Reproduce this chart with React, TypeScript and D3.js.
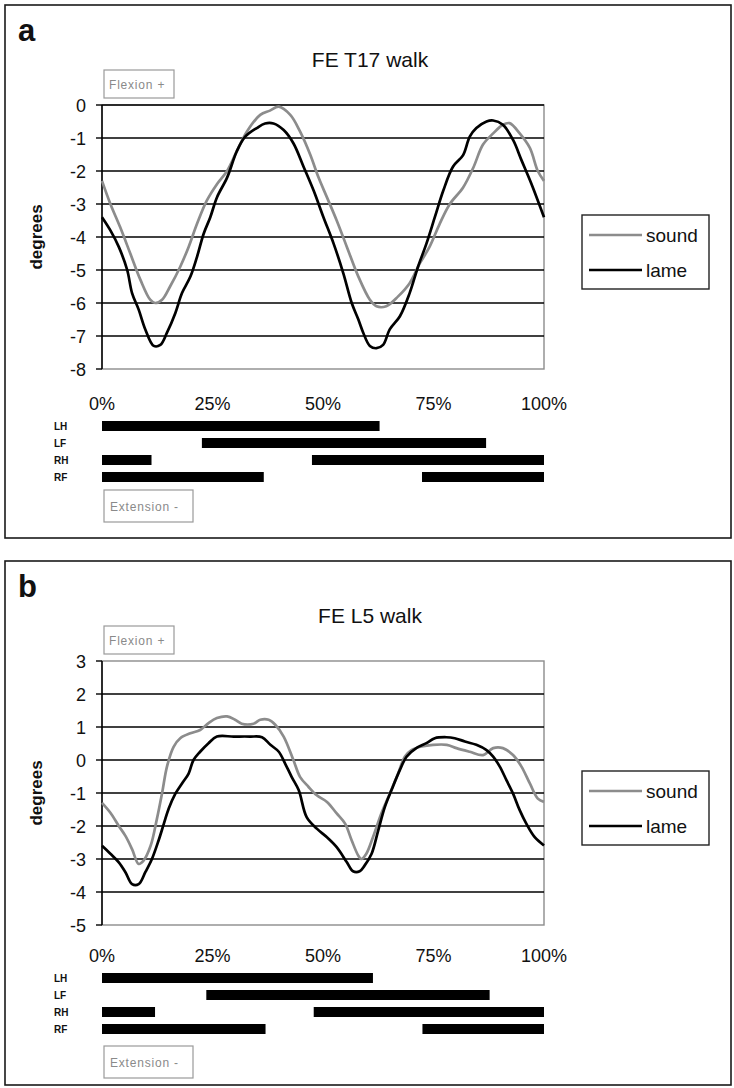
import React from "react";
import * as d3 from "d3";

type Pt = [number, number];
type Span = [number, number];

// shared categories
const limbs = ["LH", "LF", "RH", "RF"];
const cycleTicks = [0, 25, 50, 75, 100];
const seriesNames = ["sound", "lame"];
const seriesColors = ["#8c8c8c", "#000000"];

// y tick values (degrees)
const t17DegreeTicks = [0, -1, -2, -3, -4, -5, -6, -7, -8];
const l5DegreeTicks = [3, 2, 1, 0, -1, -2, -3, -4, -5];

// FE T17 walk: [% of stride, degrees]
const t17Sound: Pt[] = [
  [0, -2.3], [1.9, -3.0], [4.1, -3.7], [6.4, -4.5], [8.7, -5.3], [10.9, -5.9], [12, -6.0],
  [13.6, -5.9], [15.4, -5.5], [17.7, -4.9], [19.6, -4.3], [21.5, -3.6], [23.7, -2.9], [26, -2.4],
  [28.3, -2.0], [30.5, -1.4], [32.8, -0.8], [35.8, -0.3], [38, -0.17], [40, -0.05], [42.6, -0.3],
  [44.8, -0.8], [47.1, -1.5], [49, -2.2], [50.9, -2.8], [53.1, -3.5], [55.4, -4.3], [58, -5.2],
  [60.6, -5.9], [62.1, -6.1], [64.3, -6.1], [67, -5.8], [69.6, -5.4], [71.9, -4.8], [74.1, -4.3],
  [76.4, -3.6], [78.7, -3.0], [81.7, -2.5], [84, -1.9], [86.2, -1.2], [88.5, -0.86], [90.7, -0.6],
  [92.2, -0.55], [94.5, -0.86], [96.8, -1.3], [98.6, -2.0], [100, -2.3],
];
const t17Lame: Pt[] = [
  [0, -3.4], [1.9, -3.8], [3.8, -4.3], [5.7, -5.0], [6.8, -5.7], [8.3, -6.2], [9.8, -6.8],
  [11.7, -7.3], [13.2, -7.27], [14.7, -6.9], [16.6, -6.3], [18.1, -5.7], [20, -5.2], [21.5, -4.6],
  [23, -3.9], [24.5, -3.4], [26, -2.8], [28.3, -2.2], [30.5, -1.4], [32.4, -0.96], [35, -0.7],
  [36.9, -0.56], [38.8, -0.56], [41.1, -0.76], [43.3, -1.16], [45.6, -1.87], [47.9, -2.6],
  [50.1, -3.4], [52.4, -4.2], [54.6, -5.1], [56.5, -6.0], [58, -6.5], [59.1, -6.9], [60.6, -7.3],
  [62.1, -7.37], [63.6, -7.27], [65.1, -6.8], [67.4, -6.4], [69.6, -5.7], [71.5, -4.9],
  [73.4, -4.2], [75.3, -3.4], [77.2, -2.6], [79.4, -1.87], [81.7, -1.52], [83.2, -0.96],
  [84.7, -0.7], [87, -0.5], [88.5, -0.47], [90.7, -0.6], [93, -1.06], [94.9, -1.67],
  [97.1, -2.37], [100, -3.4],
];

// FE L5 walk: [% of stride, degrees]
const l5Sound: Pt[] = [
  [0, -1.3], [1.9, -1.6], [3.8, -2.0], [5.3, -2.3], [6.8, -2.7], [8.3, -3.15], [9.4, -3.05],
  [11, -2.6], [12.4, -1.8], [13.6, -1.0], [14.7, -0.2], [16.2, 0.4], [17.7, 0.66], [20, 0.81],
  [22.2, 0.91], [24.1, 1.12], [26, 1.27], [28.3, 1.32], [30.1, 1.22], [31.6, 1.1], [34.3, 1.1],
  [35.8, 1.22], [37.7, 1.22], [39.2, 1.07], [41.1, 0.71], [43.3, 0], [44.8, -0.51], [46.7, -0.81],
  [48.6, -1.07], [50.9, -1.27], [53.1, -1.62], [55, -1.93], [56.5, -2.44], [58, -2.9],
  [58.7, -3.0], [59.8, -2.84], [61.3, -2.34], [63.2, -1.62], [65.1, -1.02], [67, -0.41],
  [68.5, 0.1], [70, 0.3], [72.3, 0.41], [74.9, 0.46], [78, 0.46], [80.2, 0.36], [83.2, 0.25],
  [86.2, 0.15], [88.5, 0.36], [90.7, 0.36], [93, 0.15], [94.9, -0.2], [96.8, -0.71],
  [98.6, -1.17], [100, -1.27],
];
const l5Lame: Pt[] = [
  [0, -2.6], [1.9, -2.84], [3.8, -3.1], [5.3, -3.4], [6.8, -3.76], [8.3, -3.76], [9.8, -3.4],
  [11.3, -3.0], [12.8, -2.44], [14, -1.93], [15.1, -1.47], [16.6, -1.02], [18.1, -0.71],
  [19.6, -0.41], [20.7, 0], [22.2, 0.25], [24.1, 0.51], [26, 0.71], [29.8, 0.71], [33.5, 0.71],
  [36.2, 0.69], [38.1, 0.46], [40, 0.25], [41.4, -0.1], [42.9, -0.51], [44.5, -0.91],
  [46.3, -1.73], [48.6, -2.08], [50.9, -2.34], [53.1, -2.64], [55.4, -3.1], [56.8, -3.37],
  [58.3, -3.37], [59.4, -3.2], [61, -2.84], [62.5, -2.13], [64, -1.42], [65.5, -0.91],
  [67.4, -0.3], [68.9, 0.1], [71.1, 0.36], [73.4, 0.51], [75.3, 0.66], [77.9, 0.69],
  [79.8, 0.66], [82.1, 0.56], [84.7, 0.46], [87, 0.3], [88.5, 0.1], [90, -0.2], [91.5, -0.61],
  [93, -1.02], [94.5, -1.52], [96, -1.93], [97.9, -2.34], [100, -2.59],
];

// stance phases per limb (% of stride), in the order of `limbs`
const t17Stance: Span[][] = [
  [[0, 62.8]],
  [[22.6, 86.9]],
  [[0, 11.2], [47.5, 100]],
  [[0, 36.6], [72.4, 100]],
];
const l5Stance: Span[][] = [
  [[0, 61.3]],
  [[23.6, 87.7]],
  [[0, 12], [47.9, 100]],
  [[0, 37], [72.5, 100]],
];

const FONT = '"Liberation Sans", Arial, Helvetica, sans-serif';
const NARROW = '"Liberation Sans Narrow", "Arial Narrow", "Liberation Sans", sans-serif';

const PLOT_LEFT = 102;
const PLOT_RIGHT = 544;

interface PanelProps {
  top: number;
  height: number;
  letter: string;
  title: string;
  ticks: number[];
  sound: Pt[];
  lame: Pt[];
  stance: Span[][];
  topGrid: boolean;
  barTop: number;
  pctBaseline: number;
}

function Panel({ top, height, letter, title, ticks, sound, lame, stance, topGrid, barTop, pctBaseline }: PanelProps) {
  const x = d3.scaleLinear().domain([0, 100]).range([PLOT_LEFT, PLOT_RIGHT]);
  const yMin = ticks[ticks.length - 1];
  const yMax = ticks[0];
  const y = d3.scaleLinear().domain([yMin, yMax]).range([top + 364, top + 100]);
  const line = d3
    .line<Pt>()
    .x((d) => x(d[0]))
    .y((d) => y(d[1]))
    .curve(d3.curveCatmullRom.alpha(0.5));
  const series = [sound, lame];
  const gridTicks = ticks.filter((t) => t !== yMin && (topGrid || t !== yMax));
  const barY = d3.scalePoint<string>().domain(limbs).range([top + barTop, top + barTop + 51]);
  const legendTop = top + 210;

  return (
    <g>
      <rect x={5} y={top} width={726} height={height} fill="#fff" stroke="#1a1a1a" strokeWidth={1.6} />
      <text x={18} y={top + 36} fontFamily={FONT} fontWeight="bold" fontSize={31} fill="#111">
        {letter}
      </text>
      <text x={370} y={top + 62} textAnchor="middle" fontFamily={FONT} fontSize={21} fill="#111">
        {title}
      </text>

      {/* flexion tag */}
      <rect x={104} y={top + 65} width={70} height={28} fill="#fff" stroke="#9a9a9a" strokeWidth={1.2} />
      <text x={109} y={top + 84} fontFamily={FONT} fontSize={12} letterSpacing={0.8} fill="#8a8a8a">
        Flexion +
      </text>

      {/* plot area */}
      <rect
        x={PLOT_LEFT}
        y={y(yMax)}
        width={PLOT_RIGHT - PLOT_LEFT}
        height={y(yMin) - y(yMax)}
        fill="none"
        stroke="#8c8c8c"
        strokeWidth={1.4}
      />
      {gridTicks.map((t) => (
        <line key={`g${t}`} x1={PLOT_LEFT} x2={PLOT_RIGHT} y1={y(t)} y2={y(t)} stroke="#000" strokeWidth={1.4} />
      ))}
      <line x1={PLOT_LEFT} x2={PLOT_LEFT} y1={y(yMax)} y2={y(yMin)} stroke="#000" strokeWidth={1.5} />
      {ticks.map((t) => (
        <g key={`t${t}`}>
          <line x1={PLOT_LEFT - 6} x2={PLOT_LEFT} y1={y(t)} y2={y(t)} stroke="#000" strokeWidth={1.4} />
          <text x={86} y={y(t) + 6.5} textAnchor="end" fontFamily={FONT} fontSize={18} fill="#111">
            {t}
          </text>
        </g>
      ))}
      {cycleTicks.map((t) => (
        <text key={`x${t}`} x={x(t)} y={top + pctBaseline} textAnchor="middle" fontFamily={FONT} fontSize={18} fill="#111">
          {`${t}%`}
        </text>
      ))}
      <text
        transform={`translate(42, ${(y(yMax) + y(yMin)) / 2}) rotate(-90)`}
        textAnchor="middle"
        fontFamily={FONT}
        fontWeight="bold"
        fontSize={17}
        fill="#111"
      >
        degrees
      </text>

      {/* curves */}
      {series.map((s, i) => (
        <path
          key={seriesNames[i]}
          d={line(s) ?? ""}
          fill="none"
          stroke={seriesColors[i]}
          strokeWidth={2.7}
          strokeLinejoin="round"
        />
      ))}

      {/* legend */}
      <rect x={582} y={legendTop} width={127} height={74} fill="#fff" stroke="#222" strokeWidth={1.4} />
      {seriesNames.map((n, i) => {
        const ly = legendTop + 20 + i * 35;
        return (
          <g key={`l${n}`}>
            <line x1={589} x2={642} y1={ly} y2={ly} stroke={seriesColors[i]} strokeWidth={2.7} />
            <text x={646} y={ly + 6.5} fontFamily={FONT} fontSize={19} fill="#111">
              {n}
            </text>
          </g>
        );
      })}

      {/* stance bars */}
      {limbs.map((limb, i) => {
        const cy = barY(limb) ?? 0;
        return (
          <g key={`b${limb}`}>
            <text x={54} y={cy + 4} fontFamily={NARROW} fontWeight="bold" fontSize={10} fill="#111">
              {limb}
            </text>
            {stance[i].map(([s, e]) => (
              <rect key={`${limb}${s}`} x={x(s)} y={cy - 5} width={x(e) - x(s)} height={10} fill="#000" />
            ))}
          </g>
        );
      })}

      {/* extension tag */}
      <rect x={104} y={top + 485} width={89} height={32} fill="#fff" stroke="#9a9a9a" strokeWidth={1.2} />
      <text x={110} y={top + 506} fontFamily={FONT} fontSize={12} letterSpacing={0.8} fill="#8a8a8a">
        Extension -
      </text>
    </g>
  );
}

export default function App() {
  return (
    <svg
      width={734}
      height={1088}
      viewBox="0 0 734 1088"
      style={{ position: "absolute", left: 0, top: 0, background: "#fff" }}
    >
      <rect x={0} y={0} width={734} height={1088} fill="#fff" />
      <Panel
        top={5}
        height={533}
        letter="a"
        title="FE T17 walk"
        ticks={t17DegreeTicks}
        sound={t17Sound}
        lame={t17Lame}
        stance={t17Stance}
        topGrid={true}
        barTop={421}
        pctBaseline={405}
      />
      <Panel
        top={561}
        height={524}
        letter="b"
        title="FE L5 walk"
        ticks={l5DegreeTicks}
        sound={l5Sound}
        lame={l5Lame}
        stance={l5Stance}
        topGrid={false}
        barTop={417}
        pctBaseline={401}
      />
    </svg>
  );
}
